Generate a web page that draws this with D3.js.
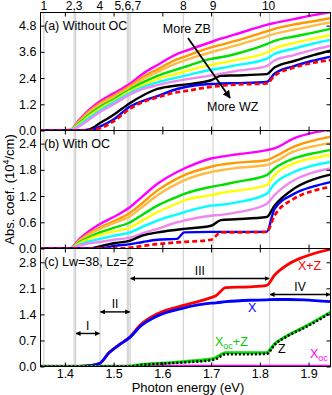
<!DOCTYPE html>
<html>
<head>
<meta charset="utf-8">
<script src="https://cdn.jsdelivr.net/npm/d3@7"></script>
<style>
  body { margin: 0; background: #fff; }
  svg text { font-family: 'Liberation Sans', Arial, sans-serif; fill: #000; }
</style>
</head>
<body>
<svg id="chart" width="332" height="395"></svg>
<script>
// photon energies (eV) used for panels (a) and (b)
const energy = [1.35, 1.41, 1.43, 1.45, 1.472, 1.50, 1.534, 1.56, 1.59, 1.63, 1.645, 1.70, 1.72, 1.75, 1.814, 1.83, 1.87, 1.91, 1.945];

// (a) without OC, 10^4/cm
const aMagenta = [0, 0.02, 0.5, 0.95, 1.34, 1.7, 2.15, 2.6, 3.0, 3.5, 3.62, 4.05, 4.2, 4.4, 4.83, 4.92, 5.1, 5.28, 5.42];
const aOrange = [0, 0.02, 0.45, 0.88, 1.25, 1.6, 2.05, 2.45, 2.8, 3.25, 3.37, 3.8, 3.92, 4.1, 4.54, 4.65, 4.85, 5.0, 5.14];
const aLightOrange = [0, 0.02, 0.4, 0.82, 1.18, 1.52, 1.98, 2.35, 2.68, 3.08, 3.2, 3.58, 3.7, 3.88, 4.31, 4.42, 4.62, 4.8, 4.95];
const aGreen = [0, 0.01, 0.35, 0.74, 1.08, 1.42, 1.88, 2.2, 2.5, 2.8, 2.9, 3.28, 3.35, 3.5, 3.95, 4.1, 4.3, 4.48, 4.65];
const aYellow = [0, 0.01, 0.3, 0.66, 1.0, 1.35, 1.8, 2.08, 2.35, 2.6, 2.7, 3.0, 3.08, 3.22, 3.57, 3.75, 4.0, 4.2, 4.37];
const aCyan = [0, 0.01, 0.25, 0.58, 0.92, 1.28, 1.72, 1.98, 2.2, 2.42, 2.5, 2.78, 2.85, 2.98, 3.29, 3.5, 3.75, 3.98, 4.15];
const aViolet = [0, 0.01, 0.2, 0.5, 0.85, 1.2, 1.65, 1.9, 2.08, 2.27, 2.33, 2.52, 2.6, 2.72, 2.95, 3.2, 3.45, 3.7, 3.88];
const aBlack = [0, 0, 0, 0.05, 0.34, 0.72, 1.26, 1.6, 1.9, 2.06, 2.1, 2.3, 2.5, 2.52, 2.58, 2.88, 3.18, 3.45, 3.65];
const aBlue = [0, 0, 0, 0, 0.18, 0.5, 1.1, 1.35, 1.57, 1.9, 1.98, 2.13, 2.15, 2.17, 2.22, 2.6, 2.95, 3.2, 3.38];
const aRed = [0, 0, 0, 0, 0.1, 0.42, 1.0, 1.3, 1.52, 1.75, 1.8, 2.0, 2.05, 2.1, 2.15, 2.5, 2.88, 3.1, 3.23];

// (b) with OC
const bMagenta = [0, 0, 0.22, 0.4, 0.56, 0.72, 0.95, 1.2, 1.48, 1.75, 1.83, 2.06, 2.1, 2.15, 2.25, 2.29, 2.52, 2.65, 2.72];
const bOrange = [0, 0, 0.19, 0.35, 0.48, 0.62, 0.82, 1.05, 1.33, 1.6, 1.68, 1.87, 1.92, 1.96, 2.02, 2.1, 2.33, 2.47, 2.56];
const bLightOrange = [0, 0, 0.17, 0.32, 0.45, 0.58, 0.74, 0.96, 1.22, 1.48, 1.56, 1.75, 1.79, 1.84, 1.91, 1.98, 2.22, 2.34, 2.41];
const bGreen = [0, 0, 0.14, 0.26, 0.37, 0.47, 0.6, 0.78, 0.98, 1.18, 1.25, 1.41, 1.45, 1.52, 1.68, 1.83, 2.06, 2.18, 2.25];
const bYellow = [0, 0, 0.12, 0.22, 0.31, 0.39, 0.48, 0.65, 0.83, 1.03, 1.1, 1.22, 1.27, 1.32, 1.45, 1.68, 1.95, 2.07, 2.14];
const bCyan = [0, 0, 0.09, 0.16, 0.22, 0.29, 0.37, 0.5, 0.64, 0.78, 0.83, 0.98, 1.0, 1.05, 1.25, 1.48, 1.75, 1.9, 1.98];
const bViolet = [0, 0, 0.07, 0.12, 0.15, 0.2, 0.25, 0.35, 0.45, 0.6, 0.64, 0.75, 0.77, 0.82, 1.02, 1.22, 1.56, 1.74, 1.83];
const bBlack = [0, 0, 0, 0, 0.05, 0.12, 0.18, 0.3, 0.37, 0.43, 0.45, 0.52, 0.65, 0.67, 0.72, 0.98, 1.37, 1.58, 1.69];
const bBlue = [0, 0, 0, 0, 0, 0.06, 0.1, 0.15, 0.2, 0.22, 0.37, 0.38, 0.38, 0.38, 0.38, 0.9, 1.25, 1.42, 1.52];
const bRed = [0, 0, 0, 0, 0, 0, 0.02, 0.06, 0.1, 0.14, 0.15, 0.2, 0.37, 0.37, 0.38, 0.75, 1.14, 1.32, 1.41];

// (c) Lw=38, Lz=2
const energyC = [1.35, 1.43, 1.45, 1.472, 1.49, 1.51, 1.534, 1.555, 1.59, 1.643, 1.70, 1.71, 1.73, 1.78, 1.814, 1.83, 1.86, 1.89, 1.945];
const cXZ = [0, 0, 0.02, 0.09, 0.36, 0.57, 0.8, 1.12, 1.42, 1.64, 1.85, 1.9, 2.12, 2.14, 2.18, 2.45, 2.76, 2.94, 3.15];
const cX = [0, 0, 0.02, 0.09, 0.36, 0.57, 0.79, 1.08, 1.36, 1.57, 1.7, 1.71, 1.74, 1.78, 1.79, 1.8, 1.8, 1.79, 1.74];
const cXocZ = [0, 0, 0, 0, 0, 0, 0.01, 0.05, 0.08, 0.13, 0.2, 0.24, 0.37, 0.37, 0.37, 0.6, 0.85, 1.05, 1.46];
const cZ = [0, 0, 0, 0, 0, 0, 0, 0.04, 0.07, 0.11, 0.17, 0.2, 0.33, 0.33, 0.34, 0.58, 0.84, 1.03, 1.44];
const cXoc = [0.01, 0.01, 0.01, 0.01, 0.01, 0.01, 0.01, 0.01, 0.01, 0.01, 0.01, 0.01, 0.01, 0.01, 0.01, 0.01, 0.01, 0.01, 0.01];

// y ticks
const ticksA = [0, 1.2, 2.4, 3.6, 4.8];
const ticksB = [0, 0.6, 1.2, 1.8, 2.4];
const ticksC = [0, 0.7, 1.4, 2.1, 2.8];
const ticksX = [1.4, 1.5, 1.6, 1.7, 1.8, 1.9];

// transition energies (grey lines) and their labels on top
const lineE = [1.357, 1.419, 1.422, 1.472, 1.528, 1.531, 1.534, 1.643, 1.704, 1.820];
const lineLabels = ['1', '2,3', '4', '5,6,7', '8', '9', '10'];
const lineLabelE = [1.357, 1.419, 1.472, 1.529, 1.643, 1.704, 1.818];

const colorsAB = ['#ff00ff', '#ff9900', '#ffbb44', '#00e000', '#ffff00', '#00ffff', '#ee88ee', '#000000', '#0000ff', '#ff0000'];

const svg = d3.select('#chart');
const left = 40.5, right = 330.5, panelH = 118;
const x = d3.scaleLinear().domain([1.35, 1.945]).range([left, right]);

const panels = [
  {top: 12.5, max: 5.4, ticks: ticksA, label: '(a) Without OC',
   series: [aMagenta, aOrange, aLightOrange, aGreen, aYellow, aCyan, aViolet, aBlack, aBlue, aRed]},
  {top: 130.5, max: 2.7, ticks: ticksB, label: '(b) With OC',
   series: [bMagenta, bOrange, bLightOrange, bGreen, bYellow, bCyan, bViolet, bBlack, bBlue, bRed]},
  {top: 248.5, max: 3.17, ticks: ticksC, label: '(c) Lw=38, Lz=2', series: []}
];
panels.forEach(p => {
  p.y = d3.scaleLinear().domain([0, p.max]).range([p.top + panelH, p.top]);
});

const defs = svg.append('defs');
panels.forEach((p, i) => {
  defs.append('clipPath').attr('id', 'clip' + i)
    .append('rect').attr('x', left).attr('y', p.top).attr('width', right - left).attr('height', panelH);
});
defs.append('marker').attr('id', 'arr').attr('viewBox', '0 0 10 10')
  .attr('refX', 9).attr('refY', 5).attr('markerWidth', 5).attr('markerHeight', 5)
  .attr('markerUnits', 'userSpaceOnUse').attr('orient', 'auto-start-reverse')
  .append('path').attr('d', 'M0,0L10,5L0,10z').attr('fill', '#000');
defs.append('marker').attr('id', 'arrBig').attr('viewBox', '0 0 10 10')
  .attr('refX', 9).attr('refY', 5).attr('markerWidth', 8).attr('markerHeight', 8)
  .attr('markerUnits', 'userSpaceOnUse').attr('orient', 'auto')
  .append('path').attr('d', 'M0,0L10,5L0,10z').attr('fill', '#000');

// grey vertical lines across all panels
svg.append('g').selectAll('line').data(lineE).enter().append('line')
  .attr('x1', d => x(d)).attr('x2', d => x(d))
  .attr('y1', panels[0].top).attr('y2', panels[2].top + panelH)
  .attr('stroke', '#cfcfcf').attr('stroke-width', 1.1);

svg.append('g').selectAll('text').data(lineLabels).enter().append('text')
  .attr('x', (d, i) => x(lineLabelE[i])).attr('y', 9.5)
  .attr('text-anchor', 'middle').attr('font-size', 12).text(d => d);

panels.forEach((p, i) => {
  const line = d3.line().x((d, j) => x(energy[j])).y(d => p.y(d)).curve(d3.curveMonotoneX);
  const g = svg.append('g').attr('clip-path', `url(#clip${i})`);
  g.selectAll('path').data(p.series).enter().append('path')
    .attr('d', line)
    .attr('fill', 'none')
    .attr('stroke', (d, j) => colorsAB[j])
    .attr('stroke-width', (d, j) => j === 9 ? 2.7 : 2.4)
    .attr('stroke-dasharray', (d, j) => j === 9 ? '5,3' : null);
});

// panel (c) curves
const pc = panels[2];
const lineC = d3.line().x((d, j) => x(energyC[j])).y(d => pc.y(d)).curve(d3.curveMonotoneX);
const gc = svg.append('g').attr('clip-path', 'url(#clip2)');
const cSeries = [
  {v: cXoc, color: '#ff00ff', w: 2.6, dash: null},
  {v: cXZ, color: '#ff0000', w: 2.8, dash: null},
  {v: cX, color: '#0000ff', w: 2.8, dash: null},
  {v: cXocZ, color: '#00dd00', w: 3, dash: null},
  {v: cZ, color: '#000000', w: 2.6, dash: '2,2'}
];
gc.selectAll('path').data(cSeries).enter().append('path')
  .attr('d', d => lineC(d.v))
  .attr('fill', 'none').attr('stroke', d => d.color)
  .attr('stroke-width', d => d.w).attr('stroke-dasharray', d => d.dash);

// frames and axes
panels.forEach((p, i) => {
  svg.append('rect').attr('x', left).attr('y', p.top).attr('width', right - left).attr('height', panelH)
    .attr('fill', 'none').attr('stroke', '#000').attr('stroke-width', 1);

  const yl = svg.append('g').attr('transform', `translate(${left},0)`)
    .call(d3.axisLeft(p.y).tickValues(p.ticks).tickFormat(d3.format('.1f')).tickSizeInner(-4).tickSizeOuter(0).tickPadding(4));
  const yr = svg.append('g').attr('transform', `translate(${right},0)`)
    .call(d3.axisRight(p.y).tickValues(p.ticks).tickFormat('').tickSizeInner(-4).tickSizeOuter(0));
  const xt = svg.append('g').attr('transform', `translate(0,${p.top})`)
    .call(d3.axisTop(x).tickValues(ticksX).tickFormat('').tickSizeInner(-4).tickSizeOuter(0));
  const xb = svg.append('g').attr('transform', `translate(0,${p.top + panelH})`)
    .call(d3.axisBottom(x).tickValues(ticksX).tickFormat(i === 2 ? d3.format('.1f') : '').tickSizeInner(-4).tickSizeOuter(0).tickPadding(3));
  [yl, yr, xt, xb].forEach(a => {
    a.select('.domain').remove();
    a.selectAll('text').attr('font-size', 12.5).attr('font-family', "'Liberation Sans', Arial, sans-serif").attr('fill', '#000');
    a.selectAll('line').attr('stroke', '#000');
  });

  svg.append('text').attr('x', left + 3.5).attr('y', p.top + 17.5)
    .attr('font-size', 12.5).text(p.label);
});

// axis titles
svg.append('text').attr('x', 188).attr('y', 392)
  .attr('text-anchor', 'middle').attr('font-size', 13).text('Photon energy (eV)');
const yt = svg.append('text').attr('transform', `translate(14,${panels[1].top + panelH / 2}) rotate(-90)`)
  .attr('text-anchor', 'middle').attr('font-size', 13);
yt.append('tspan').text('Abs. coef. (10');
yt.append('tspan').attr('dy', -5).attr('font-size', 9).text('4');
yt.append('tspan').attr('dy', 5).text('/cm)');

// panel (a) annotation
const pa = panels[0];
svg.append('line')
  .attr('x1', x(1.6526)).attr('y1', pa.y(4.23)).attr('x2', x(1.7388)).attr('y2', pa.y(1.49))
  .attr('stroke', '#000').attr('stroke-width', 1.8).attr('marker-end', 'url(#arrBig)');
svg.append('text').attr('x', x(1.601)).attr('y', pa.y(4.46)).attr('font-size', 12.5).text('More ZB');
svg.append('text').attr('x', x(1.6916)).attr('y', pa.y(0.87)).attr('font-size', 12.5).text('More WZ');

// panel (c) ranges
const ranges = [
  {name: 'I', e0: 1.422, e1: 1.472, v: 0.887},
  {name: 'II', e0: 1.472, e1: 1.534, v: 1.467},
  {name: 'III', e0: 1.534, e1: 1.82, v: 2.364},
  {name: 'IV', e0: 1.82, e1: 1.945, v: 1.934}
];
ranges.forEach(r => {
  svg.append('line').attr('x1', x(r.e0) + 0.5).attr('x2', x(r.e1) - 0.5)
    .attr('y1', pc.y(r.v)).attr('y2', pc.y(r.v))
    .attr('stroke', '#000').attr('stroke-width', 1.4)
    .attr('marker-start', 'url(#arr)').attr('marker-end', 'url(#arr)');
  svg.append('text').attr('x', (x(r.e0) + x(r.e1)) / 2).attr('y', pc.y(r.v) - 3.5)
    .attr('text-anchor', 'middle').attr('font-size', 12)
    .attr('font-family', "'Liberation Serif', 'Times New Roman', serif").text(r.name);
});

// panel (c) curve labels
svg.append('text').attr('x', x(1.8783)).attr('y', pc.y(2.59)).attr('font-size', 12.5).style('fill', '#ff0000').text('X+Z');
svg.append('text').attr('x', x(1.7757)).attr('y', pc.y(1.47)).attr('font-size', 12.5).style('fill', '#0000ff').text('X');
const t1 = svg.append('text').attr('x', x(1.708)).attr('y', pc.y(0.545)).attr('font-size', 12.5).style('fill', '#00cc00');
t1.append('tspan').text('X');
t1.append('tspan').attr('dy', 3).attr('font-size', 9).text('oc');
t1.append('tspan').attr('dy', -3).text('+Z');
svg.append('text').attr('x', x(1.8373)).attr('y', pc.y(0.357)).attr('font-size', 12.5).text('Z');
const t2 = svg.append('text').attr('x', x(1.903)).attr('y', pc.y(0.215)).attr('font-size', 12.5).style('fill', '#ff00ff');
t2.append('tspan').text('X');
t2.append('tspan').attr('dy', 3).attr('font-size', 9).text('oc');
</script>
</body>
</html>
